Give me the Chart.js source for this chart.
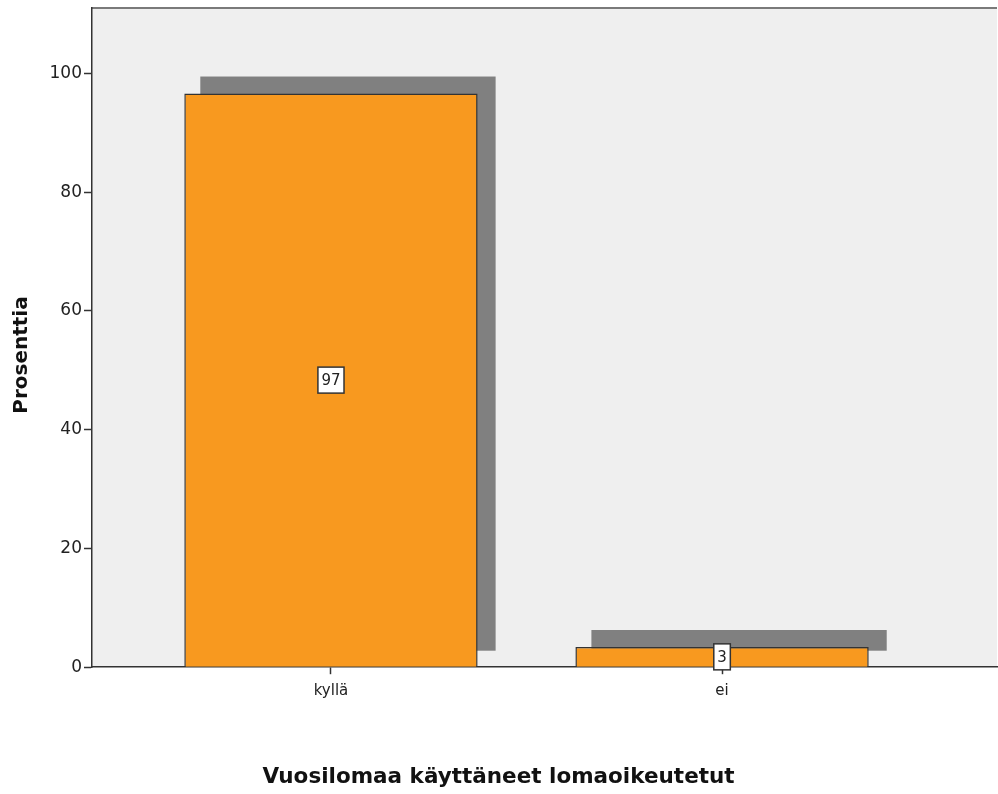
<!DOCTYPE html>
<html>
<head>
<meta charset="utf-8">
<script src="https://cdn.jsdelivr.net/npm/chart.js@4/dist/chart.umd.min.js"></script>
<style>
  html, body { margin: 0; padding: 0; background: #fff; }
  #wrap { width: 998px; height: 794px; }
</style>
</head>
<body>
<div id="wrap"><canvas id="chart" width="998" height="794"></canvas></div>
<script>
// Data
const categories = ['kyllä', 'ei'];
const percentages = [96.6, 3.4];
const yTicks = [0, 20, 40, 60, 80, 100];

const FONT = "'DejaVu Sans', sans-serif";
const ORANGE = '#f8991f';
const SHADOW = '#808080';
const EDGE = '#333333';

/**
 * Plot background, top border and offset shadow behind each bar
 */
const backdropPlugin = {
    id: 'backdrop',
    beforeDraw(chart) {
        const { ctx, chartArea: a } = chart;
        ctx.save();
        ctx.fillStyle = '#efefef';
        ctx.fillRect(a.left, a.top, a.right - a.left, a.bottom - a.top);
        ctx.strokeStyle = '#7a7a7a';
        ctx.lineWidth = 2;
        ctx.beginPath();
        ctx.moveTo(a.left, a.top);
        ctx.lineTo(a.right, a.top);
        ctx.stroke();
        ctx.restore();
    },
    beforeDatasetsDraw(chart) {
        const { ctx } = chart;
        const meta = chart.getDatasetMeta(0);
        ctx.save();
        ctx.fillStyle = SHADOW;
        meta.data.forEach(bar => {
            const p = bar.getProps(['x', 'y', 'base', 'width'], true);
            const left = p.x - p.width / 2 + 16;
            const right = p.x + p.width / 2 + 18;
            const top = p.y - 17;
            const bottom = p.base - 16;
            ctx.fillRect(left, top, right - left, bottom - top);
        });
        ctx.restore();
    }
};

/**
 * Boxed value label in the middle of each bar
 */
const valueLabelPlugin = {
    id: 'valueLabels',
    afterDatasetsDraw(chart) {
        const { ctx } = chart;
        const meta = chart.getDatasetMeta(0);
        ctx.save();
        ctx.font = '15px ' + FONT;
        ctx.textAlign = 'center';
        ctx.textBaseline = 'middle';
        meta.data.forEach((bar, i) => {
            const p = bar.getProps(['x', 'y', 'base'], true);
            const text = String(Math.round(percentages[i]));
            const cy = (p.y + p.base) / 2;
            const w = ctx.measureText(text).width + 7;
            const h = 26;
            ctx.fillStyle = '#ffffff';
            ctx.fillRect(p.x - w / 2, cy - h / 2, w, h);
            ctx.strokeStyle = EDGE;
            ctx.lineWidth = 1.5;
            ctx.strokeRect(p.x - w / 2, cy - h / 2, w, h);
            ctx.fillStyle = '#222';
            ctx.fillText(text, p.x, cy + 1);
        });
        ctx.restore();
    }
};

const ctx = document.getElementById('chart').getContext('2d');

new Chart(ctx, {
    type: 'bar',
    data: {
        datasets: [{
            data: percentages.map((v, i) => ({ x: i, y: v })),
            backgroundColor: ORANGE,
            borderColor: EDGE,
            borderWidth: 1.5,
            barPercentage: 0.75,
            categoryPercentage: 1
        }]
    },
    options: {
        responsive: false,
        animation: false,
        layout: { padding: { left: 0, top: 8, right: 1, bottom: 0 } },
        plugins: {
            legend: { display: false },
            tooltip: { enabled: false },
            title: {
                display: true,
                position: 'bottom',
                text: 'Vuosilomaa käyttäneet lomaoikeutetut',
                color: '#111',
                font: { family: FONT, size: 21.5, weight: 'bold' },
                padding: { top: 0, bottom: 4 }
            }
        },
        scales: {
            x: {
                type: 'linear',
                min: -0.611,
                max: 1.703,
                offset: false,
                afterBuildTicks(scale) {
                    scale.ticks = categories.map((c, i) => ({ value: i }));
                },
                afterFit(scale) { scale.height = 97; },
                ticks: {
                    color: '#222',
                    font: { family: FONT, size: 15 },
                    padding: 8,
                    callback: (v) => categories[v] ?? ''
                },
                grid: {
                    offset: false,
                    drawOnChartArea: false,
                    tickLength: 7,
                    tickWidth: 1.5,
                    tickColor: EDGE
                },
                border: { color: EDGE, width: 1.5 }
            },
            y: {
                min: 0,
                max: 111,
                afterBuildTicks(scale) {
                    scale.ticks = yTicks.map(v => ({ value: v }));
                },
                afterFit(scale) {
                    scale.width = 92;
                    // top tick sits well below the edge, so no label padding is needed
                    scale.paddingTop = 0;
                    scale.paddingBottom = 0;
                },
                ticks: {
                    color: '#222',
                    font: { family: FONT, size: 17 },
                    padding: 2
                },
                grid: {
                    drawOnChartArea: false,
                    tickLength: 8,
                    tickWidth: 1.5,
                    tickColor: EDGE
                },
                border: { color: EDGE, width: 1.5 },
                title: {
                    display: true,
                    // trailing spaces nudge the rotated title down a bit, as in the original
                    text: 'Prosenttia     ',
                    color: '#111',
                    font: { family: FONT, size: 20, weight: 'bold' },
                    padding: { top: 10, bottom: 0 }
                }
            }
        }
    },
    plugins: [backdropPlugin, valueLabelPlugin]
});
</script>
</body>
</html>
